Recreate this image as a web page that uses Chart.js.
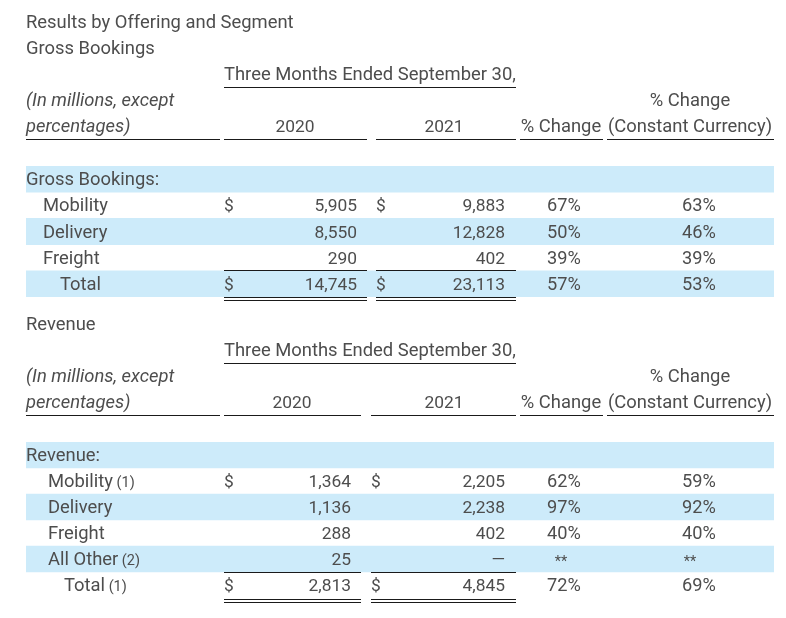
<!DOCTYPE html>
<html>
<head>
<meta charset="utf-8">
<script src="https://cdn.jsdelivr.net/npm/chart.js@4/dist/chart.umd.min.js"></script>
<style>
  html, body { margin: 0; padding: 0; background: #ffffff; }
  #wrap { position: relative; width: 786px; height: 618px; overflow: hidden; }
  canvas { position: absolute; left: 0; }
</style>
</head>
<body>
<div id="wrap">
  <canvas id="c1" width="786" height="306" style="top:0px"></canvas>
  <canvas id="c2" width="786" height="312" style="top:306px"></canvas>
</div>
<script>
// ---------------- DATA ----------------
const title = 'Results by Offering and Segment';
const periodHeader = 'Three Months Ended September 30,';
const unitsHeader = ['(In millions, except', 'percentages)'];
const years = ['2020', '2021'];
const changeHeader = '% Change';
const ccHeader = ['% Change', '(Constant Currency)'];

const gbSection = 'Gross Bookings';
const gbRows = ['Gross Bookings:', 'Mobility', 'Delivery', 'Freight', 'Total'];
const gbNotes = ['', '', '', '', ''];
const gb2020 = [null, 5905, 8550, 290, 14745];
const gb2021 = [null, 9883, 12828, 402, 23113];
const gbChange = [null, 67, 50, 39, 57];
const gbChangeCC = [null, 63, 46, 39, 53];

const revSection = 'Revenue';
const revRows = ['Revenue:', 'Mobility', 'Delivery', 'Freight', 'All Other', 'Total'];
const revNotes = ['', '(1)', '', '', '(2)', '(1)'];
const rev2020 = [null, 1364, 1136, 288, 25, 2813];
const rev2021 = [null, 2205, 2238, 402, 0, 4845];
const revChange = [null, 62, 97, 40, null, 72];
const revChangeCC = [null, 59, 92, 40, null, 69];

// ---------------- STYLE / LAYOUT ----------------
const TEXT = '#4d4d4d';
const BAND = '#cdebfa';
const LINE = '#1a1a1a';
const FONT = 'Roboto, "Noto Sans", sans-serif';
const F_WORD = '18.4px ' + FONT;
const F_ITAL = 'italic 18.4px ' + FONT;
const F_NUM = '17.4px ' + FONT;
const F_PCT = '18.2px ' + FONT;
const F_NOTE = '14.5px ' + FONT;
const X_MIN = 26, X_MAX = 774;

function fmt(v) {
  if (v === 0) return '\u2014';
  return v.toLocaleString('en-US');
}

const tablePlugin = {
  id: 'tableText',
  afterDatasetsDraw(chart) {
    const o = chart.options.plugins.tableText;
    const ctx = chart.ctx;
    const xs = chart.scales.x, ys = chart.scales.y;
    const X = v => xs.getPixelForValue(v);
    const top = chart.chartArea.top;
    const bottom = chart.chartArea.bottom;
    const L = o.layout;
    ctx.save();
    ctx.fillStyle = TEXT;
    ctx.textBaseline = 'alphabetic';
    const txt = (s, x, y, align, font) => {
      ctx.font = font || F_WORD;
      ctx.textAlign = align || 'left';
      ctx.fillText(s, x, y);
    };
    // ---- headers ----
    if (o.title) txt(o.title, X(26), top - 138);
    txt(o.section, X(26), top - 112);
    txt(periodHeader, X(224), top - 86);
    txt(unitsHeader[0], X(26), top - 60, 'left', F_ITAL);
    txt(unitsHeader[1], X(26), top - 34, 'left', F_ITAL);
    txt(years[0], X(L.y2020c), top - 34, 'center', F_NUM);
    txt(years[1], X(444), top - 34, 'center', F_NUM);
    txt(changeHeader, X(561), top - 34, 'center');
    txt(ccHeader[0], X(690), top - 60, 'center');
    txt(ccHeader[1], X(690), top - 34, 'center');

    ctx.strokeStyle = LINE;
    ctx.lineWidth = 1;
    const hline = (x1, x2, y) => {
      ctx.beginPath();
      ctx.moveTo(X(x1), Math.round(y) + 0.5);
      ctx.lineTo(X(x2), Math.round(y) + 0.5);
      ctx.stroke();
    };
    hline(224, 516, top - 79);
    hline(26, 220, top - 27);
    hline(224, L.l2020end, top - 27);
    hline(L.l2021start, 516, top - 27);
    hline(520, 603, top - 27);
    hline(607, 774, top - 27);

    // ---- body rows ----
    const n = o.rows.length;
    o.rows.forEach((label, i) => {
      const cy = ys.getPixelForValue(i);
      const by = cy + 6;
      let lx;
      if (i === 0) lx = 26;
      else if (i === n - 1) lx = L.totalX;
      else lx = L.itemX;
      txt(label, X(lx), by);
      if (o.notes[i]) {
        ctx.font = F_WORD;
        const w = ctx.measureText(label + ' ').width;
        txt(o.notes[i], X(lx) + w - 1, by, 'left', F_NOTE);
      }
      if (i === 0) return;
      if (i === 1 || i === n - 1) {
        txt('$', X(224), by, 'left', F_NUM);
        txt('$', X(L.d2021), by, 'left', F_NUM);
      }
      if (o.v2020[i] !== null) txt(fmt(o.v2020[i]), X(L.r2020), by, 'right', F_NUM);
      if (o.v2021[i] !== null) txt(fmt(o.v2021[i]), X(505), by, 'right', F_NUM);
      if (o.chg[i] !== null) txt(o.chg[i] + '%', X(564), by, 'center', F_PCT);
      else txt('**', X(561), by + 1, 'center', F_NOTE);
      if (o.chgCC[i] !== null) txt(o.chgCC[i] + '%', X(699), by, 'center', F_PCT);
      else txt('**', X(690), by + 1, 'center', F_NOTE);
    });
    // total rules
    const totTop = bottom - ys.height / n;
    hline(224, L.l2020end, totTop - 0.5 + L.tOff);
    hline(L.l2021start, 516, totTop - 0.5 + L.tOff);
    hline(224, L.l2020end, bottom + L.dOff);
    hline(L.l2021start, 516, bottom + L.dOff);
    hline(224, L.l2020end, bottom + L.dOff + 3);
    hline(L.l2021start, 516, bottom + L.dOff + 3);
    ctx.restore();
  }
};

function makeTable(canvasId, cfg) {
  const bands = cfg.rows.map((_, i) => (i % 2 === 0 ? [X_MIN, X_MAX] : null));
  return new Chart(document.getElementById(canvasId), {
    type: 'bar',
    data: {
      labels: cfg.rows,
      datasets: [{
        data: bands,
        backgroundColor: BAND,
        borderWidth: 0,
        barPercentage: 1,
        categoryPercentage: 1
      }]
    },
    options: {
      indexAxis: 'y',
      responsive: false,
      animation: false,
      devicePixelRatio: 1,
      layout: { padding: cfg.padding },
      scales: {
        x: { type: 'linear', display: false, min: X_MIN, max: X_MAX },
        y: { display: false, grid: { display: false } }
      },
      plugins: {
        legend: { display: false },
        tooltip: { enabled: false },
        tableText: cfg
      }
    },
    plugins: [tablePlugin]
  });
}

makeTable('c1', {
  title: title,
  section: gbSection,
  rows: gbRows, notes: gbNotes,
  v2020: gb2020, v2021: gb2021, chg: gbChange, chgCC: gbChangeCC,
  padding: { top: 166, bottom: 9, left: 26, right: 12 },
  layout: { y2020c: 295, l2020end: 367, l2021start: 376, d2021: 376, r2020: 357,
            itemX: 43, totalX: 60, tOff: 0, dOff: 0 }
});

makeTable('c2', {
  title: null,
  section: revSection,
  rows: revRows, notes: revNotes,
  v2020: rev2020, v2021: rev2021, chg: revChange, chgCC: revChangeCC,
  padding: { top: 136, bottom: 20, left: 26, right: 12 },
  layout: { y2020c: 292, l2020end: 361, l2021start: 371, d2021: 371, r2020: 351,
            itemX: 48, totalX: 64, tOff: 0, dOff: 1 }
});
</script>
</body>
</html>
